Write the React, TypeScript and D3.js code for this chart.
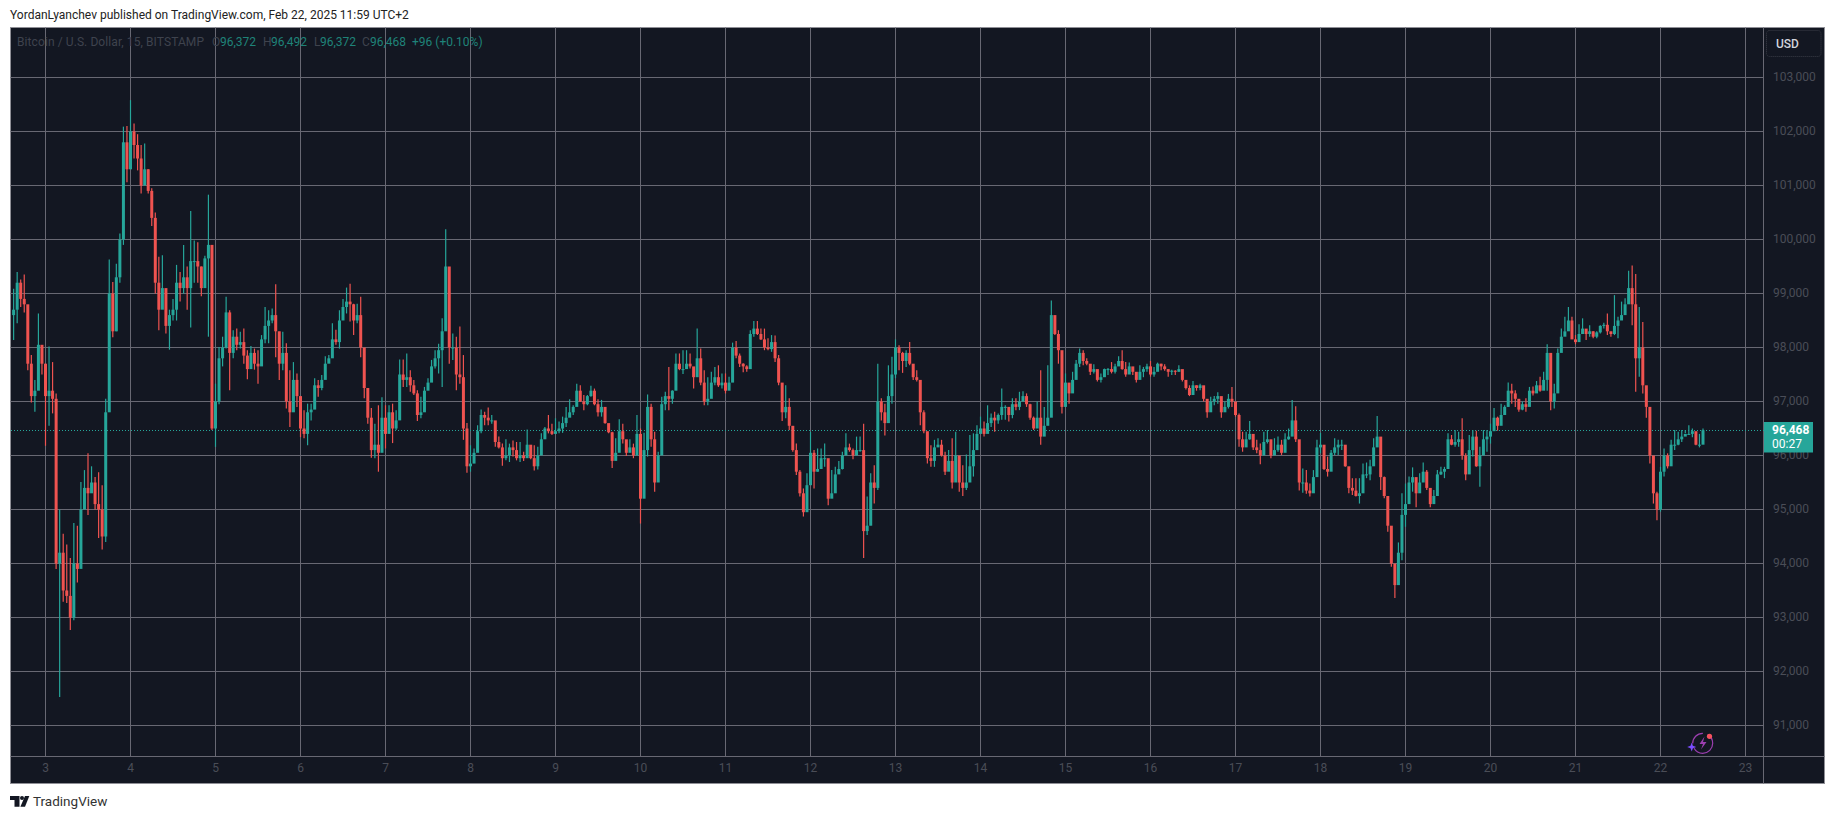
import React, { useEffect, useRef } from "react";
import * as d3 from "d3";

// hourly candles, first one is Feb 2 15:00
const FIRST_HOUR = 3 - 9 / 24;

const highs = [
  // feb 2
  99090, 99400, 99260, 99350, 98560, 97860, 97400, 98630, 98000,
  // feb 3
  97700, 98020, 97730, 97150, 95000, 94550, 94350, 94100, 94750, 94700, 95510, 95730, 96040, 95800, 95600, 95690, 95450, 97050, 99630, 99215, 99550, 100110, 102090, 102100,
  // feb 4
  102580, 102150, 101950, 101750, 101780, 101300, 100950, 100500, 99680, 99710, 98750, 98700, 98900, 99530, 99400, 99900, 99500, 100530, 99980, 99950, 99500, 99700, 100830, 99100,
  // feb 5
  97330, 98010, 98200, 98940, 98690, 98320, 98350, 98290, 98350, 97950, 98030, 97980, 97950, 98230, 98750, 98690, 98720, 99170, 98290, 98290, 98080, 97580, 97730, 97520,
  // feb 6
  97050, 96840, 96960, 96960, 97430, 97400, 97490, 97840, 97860, 98450, 98330, 98690, 98900, 99110, 99180, 98810, 98810, 98940, 97610, 97150, 96880, 96590, 96930, 97080,
  // feb 7
  96930, 96930, 96960, 96840, 97780, 97780, 97890, 97580, 97400, 97210, 97090, 97270, 97430, 97770, 97950, 98070, 98540, 100190, 99250, 98260, 98200, 98390, 97860, 96600,
  // feb 8
  96190, 96130, 96560, 96850, 96810, 96890, 96750, 96440, 96350, 96220, 96300, 96220, 96280, 96250, 96250, 96070, 96480, 96190, 96190, 96160, 96410, 96530, 96750, 96590,
  // feb 9
  96690, 96630, 96720, 96900, 97040, 96930, 97330, 97300, 97120, 97120, 97290, 97240, 97040, 97030, 96720, 96560, 96440, 96320, 96670, 96590, 96250, 96300, 96220, 96750,
  // feb 10
  96500, 96420, 97130, 96960, 96440, 96070, 97090, 97180, 97640, 97210, 97890, 97890, 97950, 97950, 97890, 97640, 98350, 97980, 97580, 97450, 97550, 97640, 97670, 97520,
  // feb 11
  97520, 97460, 98090, 98120, 97890, 97710, 97670, 98320, 98490, 98490, 98350, 98350, 98170, 98230, 98220, 97860, 97300, 97300, 97060, 96500, 96220, 95730, 95390, 95670,
  // feb 12
  96440, 96100, 96130, 96130, 96220, 95730, 95730, 95790, 95900, 96070, 96410, 96220, 96130, 96350, 96350, 96590, 95240, 95670, 95820, 97700, 97060, 96960, 97670, 97830,
  // feb 13
  98150, 98040, 97920, 97950, 98100, 97640, 97580, 97180, 96840, 96250, 96190, 96290, 96320, 96290, 96070, 96100, 96320, 96440, 95820, 95820, 96020, 96380, 96410, 96560,
  // feb 14
  96720, 96630, 96930, 96780, 96810, 96780, 97240, 96930, 96840, 97060, 97060, 97180, 97190, 97150, 96960, 96720, 97000, 97580, 96900, 97670, 98870, 98530, 98320, 97580,
  // feb 15
  97520, 97300, 97550, 97770, 97980, 97950, 97800, 97610, 97690, 97490, 97520, 97610, 97620, 97730, 97700, 97840, 97950, 97730, 97720, 97590, 97520, 97670, 97640, 97700,
  // feb 16
  97750, 97640, 97720, 97700, 97690, 97580, 97590, 97580, 97670, 97550, 97370, 97300, 97380, 97300, 97330, 97210, 97000, 97090, 97100, 97170, 97060, 97000, 97140, 97270,
  // feb 17
  96960, 96780, 96440, 96440, 96640, 96250, 96290, 96220, 96440, 96470, 96220, 96320, 96350, 96290, 96410, 96500, 97030, 96910, 96000, 95760, 95730, 95480, 95730, 96290,
  // feb 18
  96420, 96010, 95980, 96100, 96320, 96290, 96290, 96070, 95670, 95580, 95580, 95580, 95850, 95870, 95920, 96320, 96730, 96300, 95610, 94870, 94340, 93880, 94390, 95300,
  // feb 19
  95480, 95610, 95780, 95580, 95670, 95870, 95730, 95300, 95360, 95730, 95790, 95790, 96410, 96380, 96470, 96440, 96690, 96040, 96380, 96470, 96460, 96160, 96470, 96470,
  // feb 20
  96590, 96880, 96720, 96960, 96930, 97350, 97330, 97210, 97000, 97000, 97060, 97270, 97280, 97380, 97460, 97550, 98060, 97800, 97330, 97980, 98350, 98570, 98750, 98570,
  // feb 21
  98230, 98430, 98540, 98320, 98410, 98300, 98300, 98410, 98460, 98630, 98290, 98970, 98570, 98850, 98910, 99420, 99520, 99360, 98750, 98470, 97220, 96850, 95850, 95330,
  // feb 22
  95790, 96130, 96040, 96290, 96470, 96440, 96470, 96470, 96560, 96500, 96410, 96400, 96500,
];

const lows = [
  // feb 2
  98140, 98450, 98750, 98650, 97580, 96980, 96810, 97400, 97500,
  // feb 3
  96180, 96550, 96780, 93900, 91530, 93290, 93270, 92770, 92950, 93650, 93950, 95050, 94900, 95400, 95000, 94470, 94260, 94400, 97100, 98190, 98300, 99200, 99900, 101060,
  // feb 4
  101690, 101500, 101280, 100850, 101050, 100850, 100250, 99000, 98320, 98950, 98260, 97960, 98500, 98500, 98850, 99000, 98700, 98370, 99200, 99200, 98950, 99200, 98200, 96470,
  // feb 5
  96160, 96950, 97650, 97980, 97210, 97800, 97950, 97980, 97700, 97410, 97600, 97590, 97330, 97750, 98080, 98080, 98450, 97820, 97400, 97580, 96870, 96530, 97090, 96900,
  // feb 6
  96340, 96320, 96190, 96650, 96960, 97090, 97210, 97610, 97740, 97980, 98050, 97980, 98510, 98630, 98480, 98230, 98450, 97820, 97060, 96590, 95960, 95950, 95700, 96230,
  // feb 7
  96130, 96410, 96230, 96470, 96780, 97270, 97270, 97180, 97120, 96640, 96690, 96840, 97270, 97490, 97610, 97520, 97270, 98600, 97700, 97770, 97210, 97330, 96290, 95680,
  // feb 8
  95700, 95900, 96380, 96410, 96560, 96560, 96590, 96160, 96130, 95810, 95910, 95880, 95980, 95910, 95880, 95900, 96190, 95930, 95720, 95740, 96160, 96410, 96410, 96380,
  // feb 9
  96410, 96410, 96420, 96530, 96750, 96750, 97060, 96990, 96840, 96930, 97090, 96930, 96720, 96720, 96590, 96410, 95770, 96010, 96410, 96220, 95990, 96070, 95950, 96290,
  // feb 10
  94740, 95540, 95980, 96160, 95330, 95670, 96440, 96840, 96840, 96960, 97300, 97580, 97510, 97640, 97610, 97240, 97520, 97300, 96930, 96930, 97270, 97300, 97270, 97240,
  // feb 11
  97150, 97270, 97460, 97800, 97640, 97540, 97550, 97640, 98200, 98230, 98140, 97950, 97950, 97920, 97730, 97300, 96640, 96690, 96470, 96070, 95640, 95240, 94870, 95390,
  // feb 12
  95730, 95390, 95700, 95790, 95790, 95080, 95270, 95480, 95730, 95740, 96070, 96070, 95930, 96040, 96070, 94100, 94530, 94710, 95110, 95360, 96650, 96370, 96870, 96960,
  // feb 13
  97430, 97580, 97530, 97640, 97670, 97400, 97370, 96560, 96410, 95850, 95790, 95790, 96160, 95980, 95640, 95760, 95390, 95790, 95330, 95250, 95360, 95730, 95610, 96220,
  // feb 14
  96410, 96350, 96470, 96530, 96440, 96590, 96660, 96660, 96630, 96690, 96840, 96840, 97000, 96900, 96660, 96470, 96560, 96200, 96530, 96660, 97150, 98230, 97700, 96780,
  // feb 15
  97060, 96960, 97270, 97580, 97640, 97670, 97670, 97490, 97520, 97370, 97350, 97490, 97490, 97520, 97520, 97700, 97590, 97460, 97580, 97490, 97350, 97460, 97450, 97550,
  // feb 16
  97460, 97460, 97590, 97580, 97570, 97460, 97490, 97490, 97550, 97370, 97220, 97100, 97240, 97200, 97210, 97000, 96700, 96910, 96930, 96960, 96700, 96810, 96870, 96900,
  // feb 17
  96720, 96160, 96070, 96220, 96290, 96100, 96040, 95840, 96160, 96220, 95950, 96040, 96070, 96010, 96220, 96290, 96410, 96250, 95350, 95310, 95290, 95240, 95420, 95950,
  // feb 18
  96040, 95730, 95610, 95950, 96010, 96010, 96100, 95790, 95300, 95270, 95240, 95110, 95540, 95580, 95540, 96100, 96220, 95360, 95210, 94590, 93940, 93360, 93690, 94060,
  // feb 19
  94680, 95300, 95330, 95040, 95420, 95510, 95360, 95040, 95180, 95580, 95640, 95580, 95920, 96190, 96160, 96160, 95920, 95540, 95920, 95980, 95790, 95420, 96070, 96070,
  // feb 20
  96220, 96470, 96460, 96690, 96750, 96900, 96960, 96900, 96810, 96840, 96810, 97110, 97110, 97210, 97180, 97360, 97200, 96840, 96870, 97550, 97980, 98290, 98350, 98170,
  // feb 21
  98060, 98140, 98320, 98140, 98200, 98170, 98170, 98260, 98350, 98230, 98200, 98230, 98170, 98540, 98660, 99000, 98410, 97180, 97460, 97150, 96700, 95850, 95110, 94800,
  // feb 22
  94960, 95610, 95760, 96100, 96100, 96190, 96250, 96410, 96380, 96340, 96190, 96150, 96350,
];

const closes = [
  // feb 2
  98700, 99200, 98900, 98800, 97700, 97100, 97200, 98050, 97700,
  // feb 3
  97100, 97200, 97050, 94000, 94200, 93500, 93400, 93000, 94000, 93900, 95000, 95400, 95300, 95500, 95100, 95000, 94500, 96800, 99000, 98300, 99300, 100000, 101800, 101300,
  // feb 4
  102000, 101750, 101500, 101000, 101300, 100900, 100400, 99200, 98700, 99100, 98400, 98600, 98700, 99200, 99100, 99300, 99100, 99600, 99600, 99500, 99100, 99650, 99900, 96500,
  // feb 5
  97000, 97800, 98000, 98650, 97900, 98200, 98050, 98100, 97850, 97600, 97900, 97700, 97650, 98150, 98400, 98500, 98600, 98300, 97700, 97900, 97000, 96800, 97400, 97100,
  // feb 6
  96500, 96400, 96800, 96850, 97300, 97250, 97400, 97700, 97800, 98150, 98100, 98500, 98750, 98850, 98800, 98500, 98600, 98000, 97250, 96700, 96100, 96200, 96050, 96700,
  // feb 7
  96400, 96800, 96500, 96650, 97500, 97400, 97450, 97300, 97150, 96750, 96800, 97200, 97350, 97650, 97800, 97950, 98300, 99500, 98000, 98000, 97500, 97450, 96500, 95800,
  // feb 8
  95850, 96050, 96450, 96750, 96700, 96650, 96650, 96250, 96150, 95950, 96000, 96150, 96100, 95950, 96000, 95950, 96200, 95950, 95800, 96000, 96300, 96500, 96450, 96400,
  // feb 9
  96450, 96500, 96600, 96700, 96800, 96900, 97200, 97000, 96950, 97100, 97200, 96950, 96800, 96900, 96600, 96430, 95900, 96050, 96450, 96300, 96050, 96150, 96000, 96400,
  // feb 10
  95200, 96100, 96900, 96300, 95500, 96000, 96950, 97100, 97050, 97200, 97700, 97600, 97600, 97700, 97650, 97450, 97800, 97350, 97000, 97050, 97350, 97450, 97300, 97350,
  // feb 11
  97200, 97350, 98000, 97850, 97700, 97650, 97600, 98250, 98350, 98250, 98150, 98000, 97970, 98100, 97800, 97350, 96800, 96900, 96550, 96100, 95700, 95300, 94950, 95450,
  // feb 12
  96050, 95700, 95750, 95950, 95950, 95200, 95300, 95650, 95750, 96000, 96150, 96100, 96000, 96100, 96100, 94600, 94700, 95500, 95400, 97000, 96800, 96600, 97100, 97500,
  // feb 13
  98000, 97900, 97750, 97900, 97700, 97450, 97400, 96800, 96450, 95950, 95900, 96150, 96200, 96000, 95700, 95900, 95500, 96000, 95500, 95400, 95500, 95800, 96100, 96400,
  // feb 14
  96500, 96400, 96600, 96700, 96650, 96750, 96900, 96900, 96750, 96950, 96900, 97000, 97100, 96950, 96700, 96500, 96700, 96350, 96550, 96700, 98600, 98250, 97950, 96900,
  // feb 15
  97350, 97150, 97400, 97700, 97900, 97750, 97700, 97550, 97600, 97400, 97450, 97600, 97600, 97550, 97650, 97750, 97600, 97500, 97650, 97550, 97400, 97550, 97600, 97650,
  // feb 16
  97500, 97550, 97700, 97650, 97600, 97550, 97570, 97550, 97600, 97400, 97250, 97120, 97300, 97250, 97300, 97050, 96800, 97000, 97050, 97100, 96800, 96900, 97050, 97000,
  // feb 17
  96750, 96300, 96150, 96300, 96400, 96150, 96100, 96000, 96250, 96300, 96000, 96100, 96200, 96050, 96300, 96350, 96650, 96300, 95500, 95500, 95350, 95300, 95600, 96150,
  // feb 18
  96200, 95750, 95700, 96050, 96150, 96200, 96200, 95800, 95400, 95350, 95250, 95300, 95650, 95650, 95800, 96150, 96350, 95600, 95250, 94700, 94000, 93600, 94200, 94900,
  // feb 19
  95100, 95500, 95600, 95300, 95500, 95700, 95400, 95100, 95250, 95650, 95700, 95750, 96300, 96200, 96250, 96300, 96000, 95650, 96100, 96350, 95800, 96000, 96300, 96350,
  // feb 20
  96450, 96700, 96550, 96750, 96900, 97200, 97150, 97050, 96850, 96950, 96900, 97200, 97150, 97300, 97200, 97400, 97900, 97000, 97150, 97900, 98200, 98300, 98500, 98150,
  // feb 21
  98100, 98250, 98350, 98250, 98300, 98200, 98280, 98400, 98420, 98300, 98250, 98400, 98500, 98600, 98800, 99100, 98800, 97800, 98000, 97300, 96900, 96000, 95300, 95000,
  // feb 22
  95700, 96000, 95800, 96200, 96200, 96300, 96350, 96400, 96400, 96450, 96200, 96200, 96468,
];

const priceTicks = [103000, 102000, 101000, 100000, 99000, 98000, 97000, 96000, 95000, 94000, 93000, 92000, 91000];
const dayTicks = d3.range(3, 24);

const lastPrice = 96468;
const countdown = "00:27";
const publishedLine = "YordanLyanchev published on TradingView.com, Feb 22, 2025 11:59 UTC+2";
const symbolLine = "Bitcoin / U.S. Dollar, 15, BITSTAMP";
const ohlcLabels = ["O", "H", "L", "C"];
const ohlcValues = ["96,372", "96,492", "96,372", "96,468"];
const changeLine = "+96 (+0.10%)";

const WIDTH = 1835;
const HEIGHT = 819;
const FRAME = { LEFT: 10.5, TOP: 27.5, RIGHT: 1824.5, BOTTOM: 783.5 };
const AXIS_X = 1763.5;
const AXIS_Y = 756.5;

const BG = "#131722";
const GRID = "#686873";
const BORDER = "#8f8f96";
const UP = "#26a69a";
const DOWN = "#ef5350";
const LABEL = "#4a4d57";
const FONT = "Roboto, sans-serif";

const App = () => {
  const svgRef = useRef<SVGSVGElement>(null);

  useEffect(() => {
    document.body.style.margin = "0";
    const svg = d3.select(svgRef.current);
    svg.selectAll("*").remove();

    const x = d3.scaleLinear().domain([3, 23]).range([45.5, 1745.5]);
    const y = d3.scaleLinear().domain([103000, 91000]).range([77.5, 725.5]);

    svg.append("rect").attr("width", WIDTH).attr("height", HEIGHT).attr("fill", "#fff");

    svg
      .append("rect")
      .attr("x", FRAME.LEFT)
      .attr("y", FRAME.TOP)
      .attr("width", FRAME.RIGHT - FRAME.LEFT)
      .attr("height", FRAME.BOTTOM - FRAME.TOP)
      .attr("fill", BG)
      .attr("stroke", BORDER);

    // grid
    const grid = svg.append("g").attr("stroke", GRID).attr("stroke-width", 1);
    grid
      .selectAll("line.h")
      .data(priceTicks)
      .join("line")
      .attr("class", "h")
      .attr("x1", FRAME.LEFT)
      .attr("x2", AXIS_X)
      .attr("y1", (d) => y(d))
      .attr("y2", (d) => y(d));
    grid
      .selectAll("line.v")
      .data(dayTicks)
      .join("line")
      .attr("class", "v")
      .attr("x1", (d) => x(d))
      .attr("x2", (d) => x(d))
      .attr("y1", FRAME.TOP)
      .attr("y2", AXIS_Y);

    // axis separators
    svg
      .append("line")
      .attr("x1", FRAME.LEFT)
      .attr("x2", FRAME.RIGHT)
      .attr("y1", AXIS_Y)
      .attr("y2", AXIS_Y)
      .attr("stroke", GRID);
    svg
      .append("line")
      .attr("x1", AXIS_X)
      .attr("x2", AXIS_X)
      .attr("y1", FRAME.TOP)
      .attr("y2", FRAME.BOTTOM)
      .attr("stroke", GRID);

    // last price line
    svg
      .append("line")
      .attr("x1", FRAME.LEFT)
      .attr("x2", AXIS_X)
      .attr("y1", Math.round(y(lastPrice)) + 0.5)
      .attr("y2", Math.round(y(lastPrice)) + 0.5)
      .attr("stroke", UP)
      .attr("stroke-dasharray", "1 2")
      .attr("shape-rendering", "crispEdges");

    // candles, open is the previous close
    const candles = closes.map((close, i) => {
      const open = i === 0 ? 98600 : closes[i - 1];
      return { t: FIRST_HOUR + i / 24, open, high: highs[i], low: lows[i], close, up: close >= open };
    });

    const g = svg.append("g");
    g.selectAll("line")
      .data(candles)
      .join("line")
      .attr("x1", (d) => x(d.t))
      .attr("x2", (d) => x(d.t))
      .attr("y1", (d) => y(d.high))
      .attr("y2", (d) => y(d.low))
      .attr("stroke", (d) => (d.up ? UP : DOWN))
      .attr("stroke-width", 1.2);
    g.selectAll("rect")
      .data(candles)
      .join("rect")
      .attr("x", (d) => x(d.t) - 1.5)
      .attr("width", 3)
      .attr("y", (d) => y(Math.max(d.open, d.close)))
      .attr("height", (d) => Math.max(1, Math.abs(y(d.open) - y(d.close))))
      .attr("fill", (d) => (d.up ? UP : DOWN));

    // price axis
    const yAxis = d3
      .axisRight(y)
      .tickValues(priceTicks)
      .tickSize(0)
      .tickPadding(0)
      .tickFormat((d) => d3.format(",")(d as number));
    const yg = svg.append("g").attr("transform", "translate(1773,-1)").call(yAxis);
    yg.select(".domain").remove();
    yg.selectAll("text").attr("fill", LABEL).attr("font-family", FONT).attr("font-size", 12);

    // time axis
    const xAxis = d3
      .axisBottom(x)
      .tickValues(dayTicks)
      .tickSize(0)
      .tickPadding(0)
      .tickFormat((d) => String(d));
    const xg = svg.append("g").attr("transform", "translate(-0.5,763)").call(xAxis);
    xg.select(".domain").remove();
    xg.selectAll("text").attr("fill", LABEL).attr("font-family", FONT).attr("font-size", 12);

    // last price tag
    const tagY = Math.round(y(lastPrice));
    svg
      .append("rect")
      .attr("x", AXIS_X + 0.5)
      .attr("y", tagY - 8)
      .attr("width", 49)
      .attr("height", 30.5)
      .attr("fill", UP);
    svg
      .append("text")
      .attr("x", 1772)
      .attr("y", tagY + 4)
      .attr("fill", "#fff")
      .attr("font-family", FONT)
      .attr("font-weight", 700)
      .attr("font-size", 12)
      .text(d3.format(",")(lastPrice));
    svg
      .append("text")
      .attr("x", 1772)
      .attr("y", tagY + 18)
      .attr("fill", "#fff")
      .attr("font-family", FONT)
      .attr("font-size", 12)
      .text(countdown);

    // USD button
    svg
      .append("rect")
      .attr("x", 1766.5)
      .attr("y", 30.5)
      .attr("width", 54.5)
      .attr("height", 26)
      .attr("rx", 3)
      .attr("fill", "none")
      .attr("stroke", "#3a3d47")
      .attr("stroke-dasharray", "1 1");
    svg
      .append("text")
      .attr("x", 1776)
      .attr("y", 48)
      .attr("fill", "#d1d4dc")
      .attr("font-family", FONT)
      .attr("font-weight", 500)
      .attr("font-size", 12)
      .text("USD");

    // header text
    svg
      .append("text")
      .attr("x", 10)
      .attr("y", 19)
      .attr("fill", "#222")
      .attr("font-family", FONT)
      .attr("font-size", 12)
      .text(publishedLine);

    // legend
    const legend = svg
      .append("g")
      .attr("font-family", FONT)
      .attr("font-size", 12);
    legend
      .append("text")
      .attr("x", 17)
      .attr("y", 46)
      .attr("fill", "#3f434e")
      .attr("textLength", 187)
      .text(symbolLine);
    const legendX = [212, 263, 314, 362];
    const valueX = [220, 271, 320, 370];
    ohlcLabels.forEach((label, i) => {
      legend.append("text").attr("x", legendX[i]).attr("y", 46).attr("fill", "#3f434e").text(label);
      legend.append("text").attr("x", valueX[i]).attr("y", 46).attr("fill", "#1f8379").text(ohlcValues[i]);
    });
    legend.append("text").attr("x", 412).attr("y", 46).attr("fill", "#1f8379").text(changeLine);

    // bottom logo
    const logo = svg.append("g").attr("fill", "#131722");
    logo.append("path").attr("d", "M10 796h9.5v10.7h-5v-6.6h-4.5z");
    logo.append("circle").attr("cx", 22).attr("cy", 798).attr("r", 2);
    logo.append("path").attr("d", "M25 796h4.3l-4.3 10.7h-4.6z");
    svg
      .append("text")
      .attr("x", 33)
      .attr("y", 806)
      .attr("fill", "#333")
      .attr("font-family", FONT)
      .attr("font-size", 13.5)
      .text("TradingView");

    // small badge bottom right
    const badge = svg.append("g");
    badge
      .append("circle")
      .attr("cx", 1702.7)
      .attr("cy", 743.3)
      .attr("r", 10)
      .attr("fill", "none")
      .attr("stroke", "#9c3fb0")
      .attr("stroke-width", 1.2)
      .attr("stroke-dasharray", "26 5 16 5");
    badge.append("path").attr("d", "M1704.5 736.5l-5 7.5h3.5l-2 5.5 5.5-7.5h-3.5z").attr("fill", "#9c3fb0");
    badge.append("circle").attr("cx", 1709.5).attr("cy", 736.3).attr("r", 2.6).attr("fill", "#f7525f");
    badge
      .append("path")
      .attr("d", "M1691.7 742.5l1.2 3.3 3.3 1.2-3.3 1.2-1.2 3.3-1.2-3.3-3.3-1.2 3.3-1.2z")
      .attr("fill", "#7b4dff");
  }, []);

  return (
    <svg
      ref={svgRef}
      width={WIDTH}
      height={HEIGHT}
      style={{ position: "absolute", top: 0, left: 0, display: "block" }}
    />
  );
};

export default App;
